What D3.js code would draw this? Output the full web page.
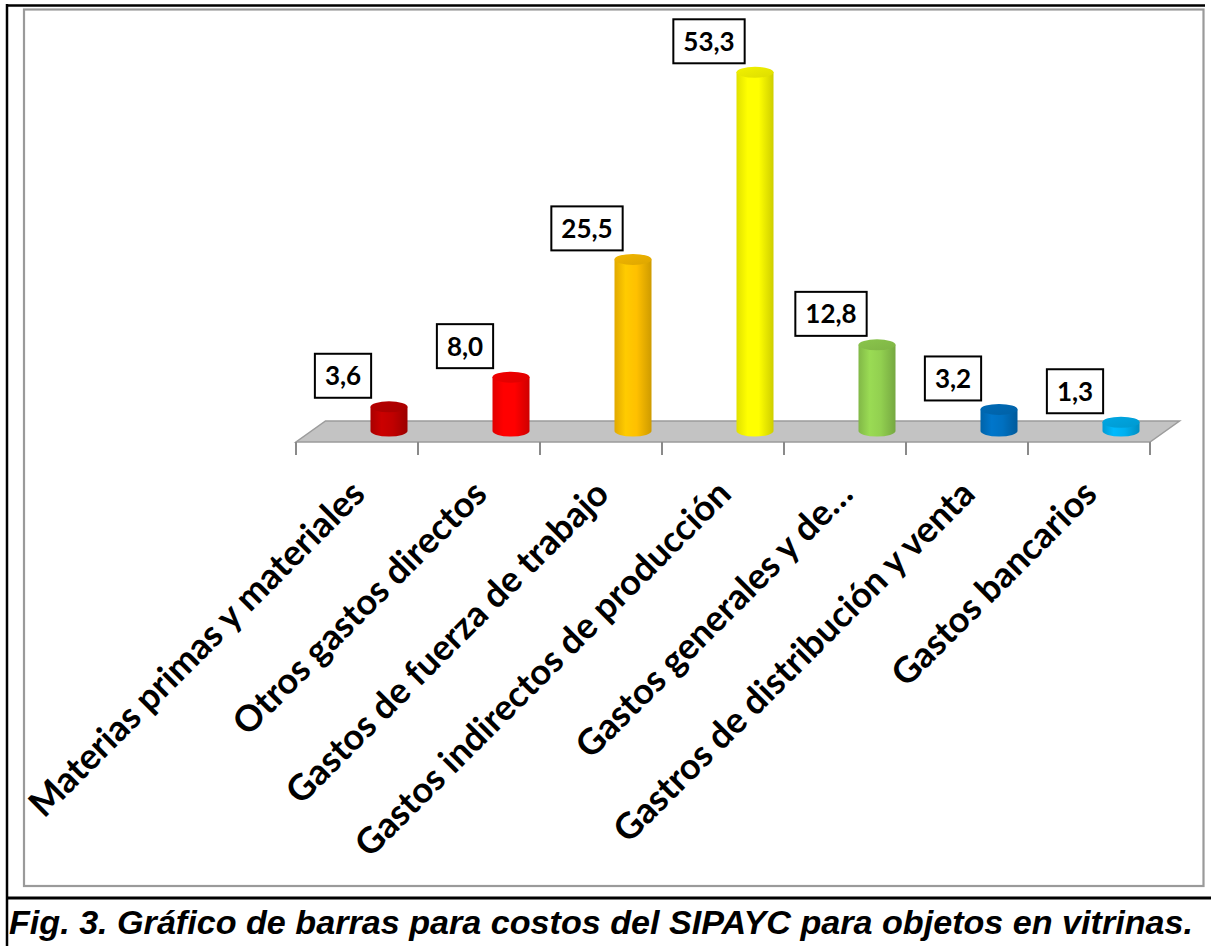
<!DOCTYPE html>
<html>
<head>
<meta charset="utf-8">
<script src="https://cdn.jsdelivr.net/npm/d3@7/dist/d3.min.js"></script>
<style>
  html, body { margin: 0; padding: 0; background: #fff; }
  svg { display: block; }
</style>
</head>
<body>
<svg id="chart" width="1211" height="946"></svg>
<script>
// Cost categories and their shares (%)
const categories = [
  "Materias primas y materiales",
  "Otros gastos directos",
  "Gastos de fuerza de trabajo",
  "Gastos indirectos de producción",
  "Gastos generales y de…",
  "Gastros de distribución y venta",
  "Gastos bancarios"
];
const values = [3.6, 8.0, 25.5, 53.3, 12.8, 3.2, 1.3];
const valueLabels = ["3,6", "8,0", "25,5", "53,3", "12,8", "3,2", "1,3"];
const barColors = ["#C00000", "#FF0000", "#FFC000", "#FFFF00", "#92D050", "#0070C0", "#00B0F0"];
const caption = "Fig. 3. Gráfico de barras para costos del  SIPAYC para objetos en vitrinas.";

const svg = d3.select("#chart");
const W = 1211, H = 946;

svg.append("rect").attr("width", W).attr("height", H).attr("fill", "#fff");

// Outer frame (black) and chart area border (gray)
const frame = svg.append("g");
frame.append("line").attr("x1", 7).attr("y1", 4).attr("x2", 7).attr("y2", H)
  .attr("stroke", "#000").attr("stroke-width", 2.5);
frame.append("line").attr("x1", 6).attr("y1", 5.5).attr("x2", 1205).attr("y2", 5.5)
  .attr("stroke", "#000").attr("stroke-width", 2.5);
frame.append("line").attr("x1", 6).attr("y1", 898).attr("x2", W).attr("y2", 898)
  .attr("stroke", "#000").attr("stroke-width", 3);
frame.append("rect").attr("x", 24).attr("y", 9.5).attr("width", 1179.5).attr("height", 876.5)
  .attr("fill", "none").attr("stroke", "#9a9a9a").attr("stroke-width", 2.2);

// Scales
const x = d3.scaleBand().domain(categories).range([296, 1150]).padding(0);
const y = d3.scaleLinear().domain([0, 60]).range([431, 431 - 60 * 6.73]);

const floorFront = 442, depthDx = 29.5, depthDy = -21;

// Floor of the 3D plot
const x0 = x.range()[0], x1 = x.range()[1];
svg.append("polygon")
  .attr("points", [
    [x0, floorFront], [x1, floorFront],
    [x1 + depthDx, floorFront + depthDy], [x0 + depthDx, floorFront + depthDy]
  ].map(p => p.join(",")).join(" "))
  .attr("fill", "#C3C3C3")
  .attr("stroke", "#9c9c9c").attr("stroke-width", 1.5);

// Category axis ticks
const tickXs = categories.map(c => x(c)).concat([x1]);
svg.append("g").selectAll("line").data(tickXs).join("line")
  .attr("x1", d => d).attr("x2", d => d)
  .attr("y1", floorFront).attr("y2", floorFront + 13)
  .attr("stroke", "#8a8a8a").attr("stroke-width", 2);

// Gradients for cylinder shading
const defs = svg.append("defs");
barColors.forEach((c, i) => {
  const base = d3.color(c);
  const g = defs.append("linearGradient").attr("id", "body" + i)
    .attr("x1", "0%").attr("x2", "100%").attr("y1", "0%").attr("y2", "0%");
  g.append("stop").attr("offset", "0%").attr("stop-color", base.darker(0.35));
  g.append("stop").attr("offset", "30%").attr("stop-color", base.brighter(0.15));
  g.append("stop").attr("offset", "60%").attr("stop-color", base);
  g.append("stop").attr("offset", "100%").attr("stop-color", base.darker(0.6));
  const t = defs.append("linearGradient").attr("id", "top" + i)
    .attr("x1", "0%").attr("x2", "100%").attr("y1", "0%").attr("y2", "100%");
  t.append("stop").attr("offset", "0%").attr("stop-color", base.darker(0.15));
  t.append("stop").attr("offset", "100%").attr("stop-color", base.darker(0.4));
});

const rx = 18.5, ry = 5.5, barShift = 32;
const cx = c => x(c) + x.bandwidth() / 2 + barShift;

const bars = svg.append("g").selectAll("g").data(categories).join("g");
bars.append("path")
  .attr("d", (c, i) => {
    const X = cx(c), top = y(values[i]), base = y(0);
    return `M${X - rx},${top} L${X - rx},${base} A${rx},${ry} 0 0 0 ${X + rx},${base} L${X + rx},${top} Z`;
  })
  .attr("fill", (c, i) => `url(#body${i})`);
bars.append("ellipse")
  .attr("cx", c => cx(c)).attr("cy", (c, i) => y(values[i]))
  .attr("rx", rx).attr("ry", ry)
  .attr("fill", (c, i) => `url(#top${i})`);

// Value labels in boxes
const labelFont = "Lato, 'Open Sans', sans-serif";
const labels = svg.append("g").selectAll("g").data(categories).join("g")
  .attr("transform", (c, i) => `translate(${cx(c) - 46},${y(values[i]) - 31})`);
labels.append("text")
  .attr("text-anchor", "middle").attr("dy", "0.36em")
  .attr("font-family", labelFont).attr("font-weight", 700).attr("font-size", 26)
  .attr("fill", "#000")
  .text((c, i) => valueLabels[i]);
labels.each(function () {
  const g = d3.select(this);
  const w = g.select("text").node().getComputedTextLength();
  g.insert("rect", "text")
    .attr("x", -w / 2 - 10).attr("y", -22).attr("width", w + 20).attr("height", 44)
    .attr("fill", "#fff").attr("stroke", "#000").attr("stroke-width", 2);
});

// Rotated category labels
svg.append("g").selectAll("text").data(categories).join("text")
  .attr("transform", c => `translate(${x(c) + x.bandwidth() / 2 + 10},496) rotate(-45)`)
  .attr("text-anchor", "end")
  .attr("font-family", labelFont).attr("font-weight", 700).attr("font-size", 36)
  .attr("fill", "#000")
  .text(c => c);

// Figure caption
svg.append("text")
  .attr("x", 9).attr("y", 934)
  .attr("font-family", "'Liberation Sans Narrow', 'Liberation Sans', Arial, sans-serif")
  .attr("font-weight", 700).attr("font-style", "italic").attr("font-size", 34)
  .attr("textLength", 1184).attr("lengthAdjust", "spacingAndGlyphs")
  .attr("fill", "#000")
  .text(caption);
</script>
</body>
</html>
